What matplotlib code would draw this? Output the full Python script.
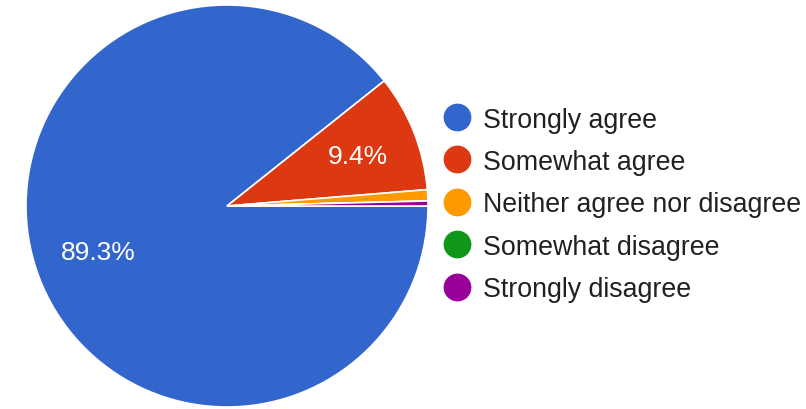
import matplotlib.pyplot as plt
from matplotlib.lines import Line2D

plt.rcParams['font.family'] = ['Liberation Sans', 'DejaVu Sans']

labels = ["Strongly agree", "Somewhat agree", "Neither agree nor disagree",
          "Somewhat disagree", "Strongly disagree"]
shares = [89.3, 9.4, 0.9, 0.0, 0.4]
colors = ["#3366cc", "#dc3912", "#ff9900", "#109618", "#990099"]

W, H = 806, 410
fig = plt.figure(figsize=(W / 100, H / 100), dpi=100)

# pie centred at (227, 207) px with radius 201 px
cx, cy, r = 227, 207, 201
ax = fig.add_axes([(cx - r) / W, (H - cy - r) / H, 2 * r / W, 2 * r / H])

def pct(v):
    return f"{v:.1f}%" if v >= 5 else ""

wedges, texts, autotexts = ax.pie(
    shares, colors=colors, startangle=0, counterclock=False,
    autopct=pct, pctdistance=0.68,
    wedgeprops=dict(edgecolor="white", linewidth=1.2),
    textprops=dict(color="white", fontsize=19))
autotexts[1].set_position((0.65, 0.25))
autotexts[0].set_position((-0.64, -0.23))
ax.set_xlim(-1, 1)
ax.set_ylim(-1, 1)
ax.set_aspect("equal")

handles = [Line2D([], [], linestyle="none", marker="o", markersize=19,
                  markerfacecolor=c, markeredgecolor=c) for c in colors]
fig.legend(handles, labels, loc="upper left",
           bbox_to_anchor=(444 / W, 1 - 107.5 / H), frameon=False,
           fontsize=19.3, labelcolor="#212121", handlelength=1.0,
           handletextpad=0.45, labelspacing=0.61, borderpad=0,
           borderaxespad=0)

fig.savefig("out.png", dpi=100, facecolor="white")
